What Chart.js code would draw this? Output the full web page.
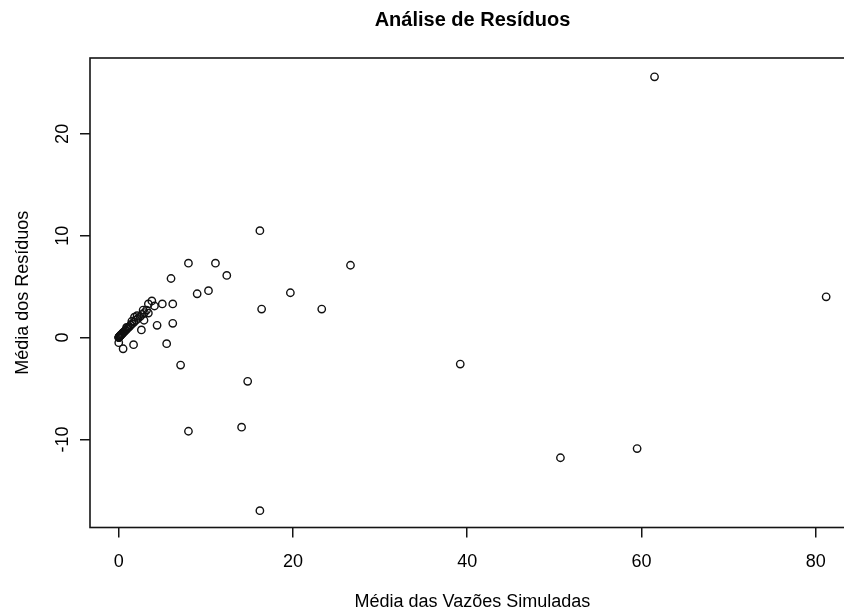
<!DOCTYPE html>
<html>
<head>
<meta charset="utf-8">
<script src="https://cdn.jsdelivr.net/npm/chart.js@4.4.1/dist/chart.umd.min.js"></script>
<style>
  html, body { margin: 0; padding: 0; background: #fff; overflow: hidden; width: 844px; height: 613px; }
  #wrap { width: 860px; height: 613px; }
</style>
</head>
<body>
<div id="wrap"><canvas id="c" width="860" height="613"></canvas></div>
<script>
// Mean simulated discharge per station (x) and mean residual (y)
const simulatedMeans = [
  61.5, 16.2, 8.0, 11.1, 26.6, 12.4, 6.0, 19.7, 10.3, 9.0,
  81.2, 16.4, 23.3, 6.2, 5.0, 3.8, 3.4, 4.1, 6.2, 4.4,
  2.6, 5.5, 1.7, 7.1, 39.2, 14.8, 14.1, 8.0, 50.7, 59.5,
  16.2, 0.5, 0.0, 2.8, 3.4, 2.9, 1.8,
  0.00, 0.01, 0.02, 0.04, 0.06, 0.09, 0.12, 0.16, 0.20, 0.25,
  0.31, 0.38, 0.45, 0.53, 0.62, 0.72, 0.83, 0.95, 1.08, 1.22,
  1.37, 1.55, 1.75, 1.98, 2.20, 2.45, 2.70, 2.95, 3.20, 1.50,
  2.10, 0.90
];
const residualMeans = [
  25.6, 10.5, 7.3, 7.3, 7.1, 6.1, 5.8, 4.4, 4.6, 4.3,
  4.0, 2.8, 2.8, 3.3, 3.3, 3.6, 3.3, 3.1, 1.4, 1.2,
  0.75, -0.6, -0.7, -2.7, -2.6, -4.3, -8.8, -9.2, -11.8, -10.9,
  -17.0, -1.1, -0.5, 2.7, 2.4, 1.7, 2.0,
  0.00, 0.02, 0.03, 0.05, 0.08, 0.10, 0.14, 0.17, 0.22, 0.26,
  0.30, 0.36, 0.43, 0.50, 0.57, 0.66, 0.75, 0.86, 0.97, 1.08,
  1.22, 1.36, 1.52, 1.70, 1.88, 2.05, 2.28, 2.45, 2.70, 1.60,
  2.15, 1.00
];
const xTickValues = [0, 20, 40, 60, 80];
const yTickValues = [-10, 0, 10, 20];
const chartTitle = 'Análise de Resíduos';
const xAxisTitle = 'Média das Vazões Simuladas';
const yAxisTitle = 'Média dos Resíduos';

const points = simulatedMeans.map((v, i) => ({ x: v, y: residualMeans[i] }));
const FONT = '"Liberation Sans", Arial, sans-serif';
const INK = '#141414';

// Box around the plot region plus all the text (R base-graphics look)
const framePlugin = {
  id: 'frame',
  afterDraw(chart) {
    const { ctx, chartArea: a, scales: { x, y } } = chart;
    ctx.save();
    ctx.strokeStyle = INK;
    ctx.lineWidth = 1.6;
    ctx.strokeRect(a.left, a.top, a.right - a.left, a.bottom - a.top);

    ctx.fillStyle = '#000';
    ctx.font = '18px ' + FONT;
    ctx.textAlign = 'center';
    ctx.textBaseline = 'alphabetic';
    xTickValues.forEach(v => {
      ctx.fillText(String(v), x.getPixelForValue(v), 566.5);
    });
    yTickValues.forEach(v => {
      ctx.save();
      ctx.translate(68, y.getPixelForValue(v));
      ctx.rotate(-Math.PI / 2);
      ctx.fillText(String(v), 0, 0);
      ctx.restore();
    });

    const cx = (a.left + a.right) / 2;
    const cy = (a.top + a.bottom) / 2;
    ctx.fillText(xAxisTitle, cx, 607);
    ctx.save();
    ctx.translate(27.5, cy);
    ctx.rotate(-Math.PI / 2);
    ctx.fillText(yAxisTitle, 0, 0);
    ctx.restore();

    ctx.font = 'bold 20px ' + FONT;
    ctx.fillText(chartTitle, cx, 26);
    ctx.restore();
  }
};

const tickGrid = {
  drawOnChartArea: false,
  drawTicks: true,
  tickLength: 10,
  color: INK,
  lineWidth: 1.5
};

new Chart(document.getElementById('c'), {
  type: 'scatter',
  data: {
    datasets: [{
      data: points,
      pointStyle: 'circle',
      pointRadius: 3.7,
      pointHoverRadius: 3.7,
      borderWidth: 1.4,
      borderColor: '#111',
      backgroundColor: 'rgba(0,0,0,0)',
      showLine: false
    }]
  },
  options: {
    responsive: false,
    devicePixelRatio: 1,
    animation: false,
    events: [],
    layout: { padding: { top: 58, right: 5, left: 0, bottom: 0 } },
    plugins: { legend: { display: false }, tooltip: { enabled: false }, title: { display: false } },
    scales: {
      x: {
        type: 'linear',
        min: -3.3,
        max: 84.5,
        afterBuildTicks: s => { s.ticks = xTickValues.map(v => ({ value: v })); },
        afterFit: s => { s.height = 85.5; },
        grid: tickGrid,
        border: { display: false },
        ticks: { display: false }
      },
      y: {
        type: 'linear',
        min: -18.65,
        max: 27.45,
        afterBuildTicks: s => { s.ticks = yTickValues.map(v => ({ value: v })); },
        afterFit: s => { s.width = 90; },
        grid: tickGrid,
        border: { display: false },
        ticks: { display: false }
      }
    }
  },
  plugins: [framePlugin]
});
</script>
</body>
</html>
